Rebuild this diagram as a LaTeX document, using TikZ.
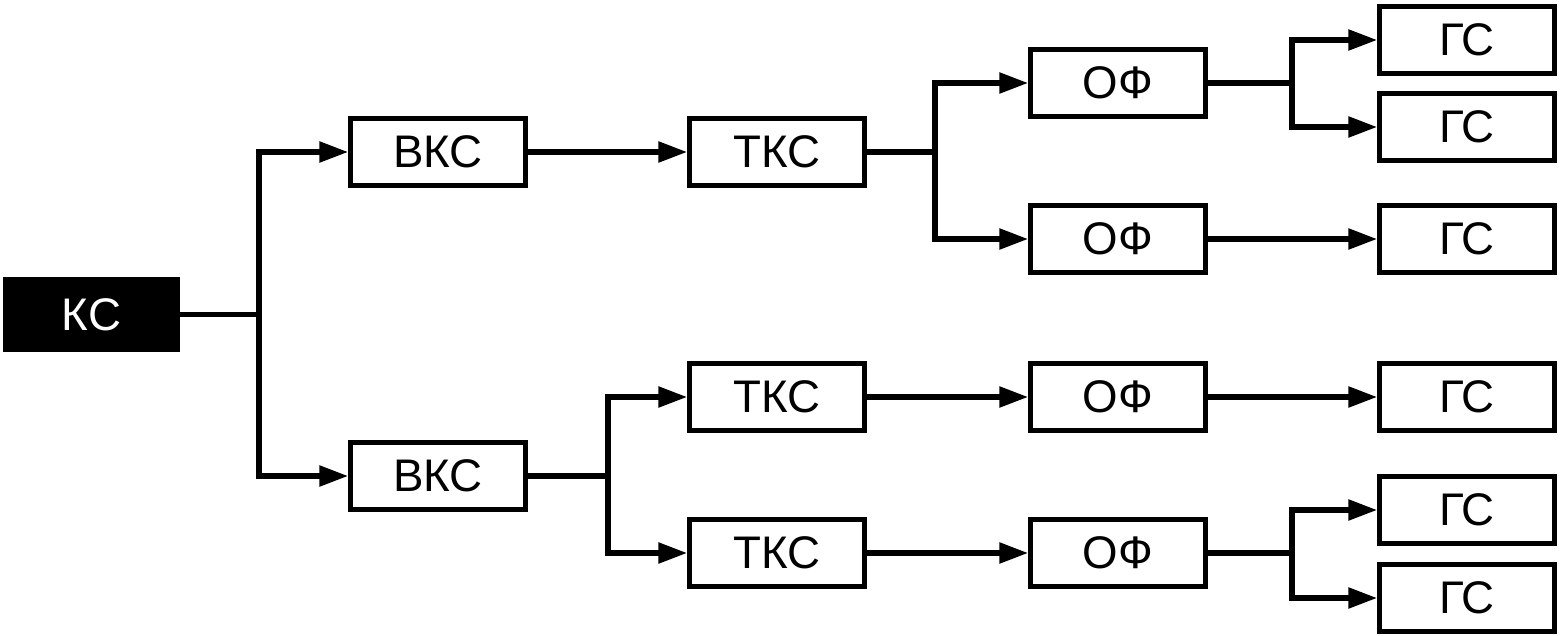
\documentclass[tikz,border=0pt]{standalone}
\usepackage{fontspec}
\setmainfont{Liberation Sans}
\usetikzlibrary{arrows.meta}
\tikzset{
    blok/.style={draw,line width=0.1cm,minimum width=3.49cm,minimum height=1.36cm,inner sep=0pt,font=\fontsize{26}{30}\selectfont},
    pil/.style={line width=0.11cm,-{Triangle[length=0.58cm,width=0.4cm]}},
    lin/.style={line width=0.11cm}
}
\begin{document}
\begin{tikzpicture}[x=0.02cm,y=-0.02cm]
                \useasboundingbox (0,0) rectangle (1560,636);
                \node[blok,fill=black,draw=black,text=white,minimum width=3.43cm,minimum height=1.4cm] (ks) at (91.5,314.5) {КС};
                \node[blok] (vks1) at (438,152) {ВКС};
                \node[blok] (vks2) at (438,476) {ВКС};
                \node[blok] (tks1) at (777,152) {ТКС};
                \node[blok] (tks2) at (777,397) {ТКС};
                \node[blok] (tks3) at (777,553) {ТКС};
                \node[blok] (of1) at (1118,83) {ОФ};
                \node[blok] (of2) at (1118,239) {ОФ};
                \node[blok] (of3) at (1118,397) {ОФ};
                \node[blok] (of4) at (1118,553) {ОФ};
                \foreach \i/\y in {1/40,2/127,3/239,4/397,5/510,6/598}
                    \node[blok] (gs\i) at (1467,\y) {ГС};
                % branch points
                \coordinate (r1) at (259,314.5);
                \coordinate (r2) at (608,476);
                \coordinate (r3) at (935,152);
                \coordinate (r4) at (1292,83);
                \coordinate (r5) at (1292,553);
                \draw[lin] (ks.east) -- (r1);
                \draw[pil] (r1) |- (vks1.west);
                \draw[pil] (r1) |- (vks2.west);
                \draw[pil] (vks1) -- (tks1);
                \draw[lin] (vks2.east) -- (r2);
                \draw[pil] (r2) |- (tks2.west);
                \draw[pil] (r2) |- (tks3.west);
                \draw[lin] (tks1.east) -- (r3);
                \draw[pil] (r3) |- (of1.west);
                \draw[pil] (r3) |- (of2.west);
                \draw[pil] (tks2) -- (of3);
                \draw[pil] (tks3) -- (of4);
                \draw[lin] (of1.east) -- (r4);
                \draw[pil] (r4) |- (gs1.west);
                \draw[pil] (r4) |- (gs2.west);
                \draw[pil] (of2) -- (gs3);
                \draw[pil] (of3) -- (gs4);
                \draw[lin] (of4.east) -- (r5);
                \draw[pil] (r5) |- (gs5.west);
                \draw[pil] (r5) |- (gs6.west);
            \end{tikzpicture}
\end{document}
